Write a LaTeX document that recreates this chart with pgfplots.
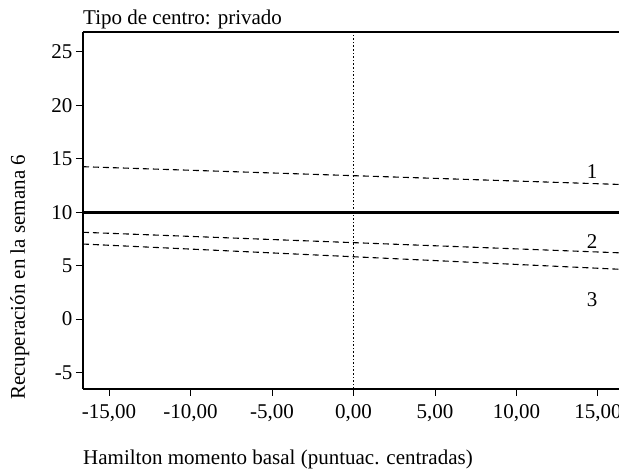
\documentclass[border=0pt]{standalone}
\usepackage{fontspec}
\setmainfont{Liberation Serif}
\usepackage{pgfplots}
\pgfplotsset{compat=1.18}
\begin{document}
\begin{tikzpicture}[font=\fontsize{21}{25}\selectfont]
\begin{axis}[
  scale only axis, width=536pt, height=357pt,
  xmin=-16.6, xmax=16.29, ymin=-6.55, ymax=26.87,
  axis x line=box, axis y line=left,
  axis line style={black, line width=1.2pt, -},
  xtick={-15,-10,-5,0,5,10,15},
  xticklabels={{-15,00},{-10,00},{-5,00},{0,00},{5,00},{10,00},{15,00}},
  ytick={-5,0,5,10,15,20,25},
  yticklabels={-5,0,5,10,15,20,25},
  xtick pos=bottom, ytick pos=left,
  tick align=outside, major tick length=7pt,
  tick style={black, line width=1pt},
  xticklabel style={yshift=-5pt},
  /pgf/number format/assume math mode=true,
  clip=false,
]
\coordinate (O) at (rel axis cs:0,0);
\addplot[black, line width=3pt] coordinates {(-16.6,10) (16.29,10)};
\addplot[black, line width=1.1pt, dash pattern=on 6pt off 4pt] coordinates {(-16.6,14.26) (0,13.42) (16.29,12.6)};
\addplot[black, line width=1.1pt, dash pattern=on 6pt off 4pt] coordinates {(-16.6,8.12) (0,7.15) (16.29,6.2)};
\addplot[black, line width=1.1pt, dash pattern=on 6pt off 4pt] coordinates {(-16.6,7.02) (0,5.83) (16.29,4.66)};
\addplot[black, line width=1.4pt, dash pattern=on 1.6pt off 2pt] coordinates {(0,-6.55) (0,26.87)};
\node at (axis cs:14.64,13.76) {1};
\node at (axis cs:14.64,7.21) {2};
\node at (axis cs:14.64,1.78) {3};
\node[anchor=base west, inner sep=0pt] at ([yshift=7pt]rel axis cs:0,1) {Tipo de centro: privado};
\node[anchor=base west, inner sep=0pt] at ([yshift=-76pt]rel axis cs:0,0) {Hamilton momento basal (puntuac. centradas)};
\node[anchor=base west, inner sep=0pt, rotate=90] at ([xshift=-58pt,yshift=-11pt]rel axis cs:0,0) {Recuperación en la semana 6};
\end{axis}
\pgfresetboundingbox
\path[use as bounding box] ([xshift=-83pt,yshift=-81pt]O) rectangle ++(619pt,470pt);
\end{tikzpicture}
\end{document}
